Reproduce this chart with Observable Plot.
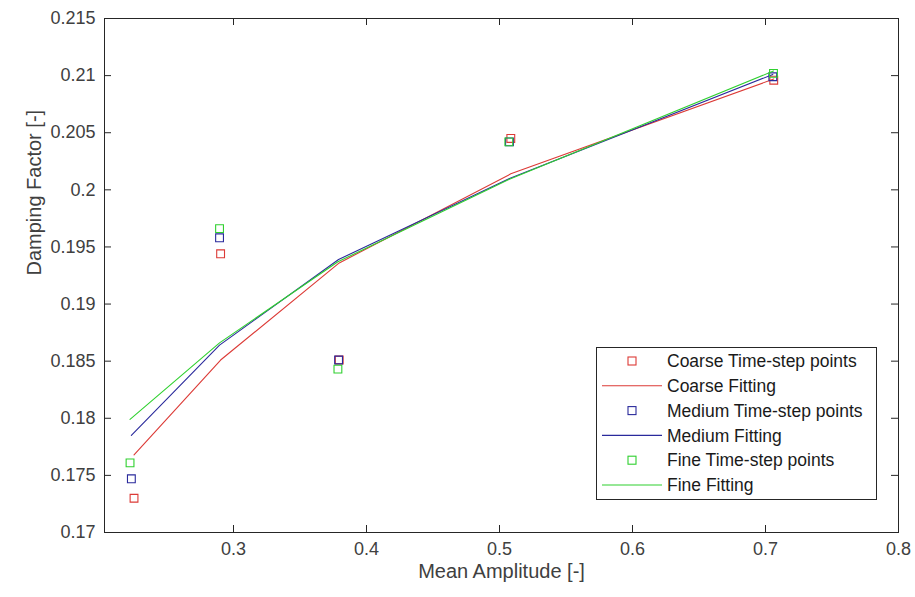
<!DOCTYPE html>
<html>
<head>
<meta charset="utf-8">
<script src="https://cdn.jsdelivr.net/npm/d3@7"></script>
<script src="https://cdn.jsdelivr.net/npm/@observablehq/plot@0.6"></script>
<style>
  html, body { margin: 0; padding: 0; background: #fff; }
  #chart { position: relative; width: 915px; height: 597px; }
  svg { font-family: "Liberation Sans", Arial, Helvetica, sans-serif; }
</style>
</head>
<body>
<div id="chart"></div>
<script>
// Mean amplitude and damping factor for the three time-step resolutions
const coarsePointsX = [0.2252, 0.2903, 0.3795, 0.5085, 0.7062];
const coarsePointsY = [0.1730, 0.1944, 0.1851, 0.2045, 0.2096];
const mediumPointsX = [0.2232, 0.2895, 0.3790, 0.5075, 0.7055];
const mediumPointsY = [0.1747, 0.1958, 0.1851, 0.2042, 0.2099];
const finePointsX   = [0.2222, 0.2895, 0.3785, 0.5070, 0.7060];
const finePointsY   = [0.1761, 0.1966, 0.1843, 0.2042, 0.2102];

// Fitted curve evaluated at the same amplitudes
const coarseFitY = [0.1768, 0.1851, 0.1936, 0.2014, 0.2097];
const mediumFitY = [0.1785, 0.1864, 0.1939, 0.2010, 0.2101];
const fineFitY   = [0.1799, 0.1866, 0.1937, 0.2009, 0.2104];

const xTicks = [0.3, 0.4, 0.5, 0.6, 0.7, 0.8];
const yTicks = [0.17, 0.175, 0.18, 0.185, 0.19, 0.195, 0.2, 0.205, 0.21, 0.215];

const legendLabels = [
  "Coarse Time-step points", "Coarse Fitting",
  "Medium Time-step points", "Medium Fitting",
  "Fine Time-step points", "Fine Fitting"
];

const colors = { Coarse: "#dc3a36", Medium: "#2a2a9c", Fine: "#2fd02f" };

const zip = (xs, ys) => xs.map((x, i) => ({ x, y: ys[i] }));
const groups = [
  { name: "Coarse", pts: zip(coarsePointsX, coarsePointsY), fit: zip(coarsePointsX, coarseFitY) },
  { name: "Medium", pts: zip(mediumPointsX, mediumPointsY), fit: zip(mediumPointsX, mediumFitY) },
  { name: "Fine",   pts: zip(finePointsX, finePointsY),     fit: zip(finePointsX, fineFitY) }
];

const fmt = d => String(+d.toFixed(3));
const axisColor = "#262626";

const W = 915, H = 597;
const M = { left: 104, right: 17, top: 18, bottom: 65 };
const innerW = W - M.left - M.right;
const innerH = H - M.top - M.bottom;
const tickLen = 7;

const marks = [];
for (const g of groups) {
  marks.push(Plot.dot(g.pts, { x: "x", y: "y", symbol: "square", r: 4.4, stroke: colors[g.name], strokeWidth: 1.1, fill: "none" }));
  marks.push(Plot.line(g.fit, { x: "x", y: "y", stroke: colors[g.name], strokeWidth: 1.1 }));
}

const plot = Plot.plot({
  width: W,
  height: H,
  marginLeft: M.left,
  marginRight: M.right,
  marginTop: M.top,
  marginBottom: M.bottom,
  style: { fontFamily: '"Liberation Sans", Arial, Helvetica, sans-serif', background: "#fff", color: axisColor },
  x: { domain: [0.203, 0.8] },
  y: { domain: [0.17, 0.215] },
  marks: [
    ...marks,
    Plot.frame({ stroke: axisColor, strokeWidth: 1 }),
    // inward-pointing ticks on all four sides of the box
    Plot.ruleX(xTicks, { x: d => d, insetTop: innerH - tickLen, stroke: axisColor }),
    Plot.ruleX(xTicks, { x: d => d, insetBottom: innerH - tickLen, stroke: axisColor }),
    Plot.ruleY(yTicks, { y: d => d, insetRight: innerW - tickLen, stroke: axisColor }),
    Plot.ruleY(yTicks, { y: d => d, insetLeft: innerW - tickLen, stroke: axisColor }),
    Plot.axisX(xTicks, { anchor: "bottom", tickSize: 0, tickPadding: 10, tickFormat: fmt, fontSize: 18, label: null, fill: "#404040" }),
    Plot.axisY(yTicks, { anchor: "left", tickSize: 0, tickPadding: 9, tickFormat: fmt, fontSize: 18, label: null, fill: "#404040" }),
    Plot.text(["Mean Amplitude [-]"], { frameAnchor: "bottom", dy: 45, fontSize: 20, fill: "#404040", text: d => d }),
    Plot.text(["Damping Factor [-]"], { frameAnchor: "left", dx: -70, rotate: -90, fontSize: 20, fill: "#404040", text: d => d })
  ]
});

document.getElementById("chart").appendChild(plot);

// Legend box in the lower right of the axes
const svg = d3.select(plot);
const lg = svg.append("g").attr("class", "legend").attr("text-anchor", "start");
const box = { x: 596, y: 347, w: 280, h: 152 };
lg.append("rect")
  .attr("x", box.x + 0.5).attr("y", box.y + 0.5)
  .attr("width", box.w).attr("height", box.h)
  .attr("fill", "#fff").attr("stroke", axisColor).attr("stroke-width", 1);

const rowStep = 24.8;
legendLabels.forEach((label, i) => {
  const g = groups[Math.floor(i / 2)];
  const c = colors[g.name];
  const cy = box.y + 14 + i * rowStep;
  if (i % 2 === 0) {
    lg.append("rect")
      .attr("x", 632 - 4).attr("y", cy - 4)
      .attr("width", 8).attr("height", 8)
      .attr("fill", "none").attr("stroke", c).attr("stroke-width", 1.1);
  } else {
    lg.append("line")
      .attr("x1", 602).attr("x2", 662).attr("y1", cy).attr("y2", cy)
      .attr("stroke", c).attr("stroke-width", 1.1);
  }
  lg.append("text")
    .attr("x", 667).attr("y", cy).attr("dy", "0.35em")
    .attr("text-anchor", "start")
    .attr("font-size", 17.5).attr("fill", "#1a1a1a")
    .text(label);
});
</script>
</body>
</html>
